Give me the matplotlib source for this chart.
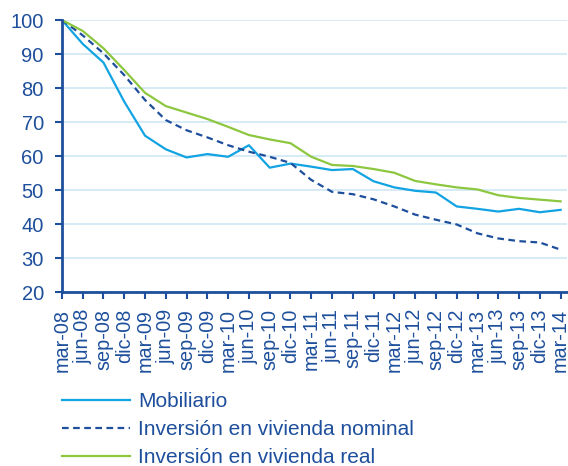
import numpy as np
import matplotlib
matplotlib.use('Agg')
import matplotlib.pyplot as plt

plt.rcParams['font.family'] = ['Liberation Sans', 'DejaVu Sans']

fechas = ['mar-08', 'jun-08', 'sep-08', 'dic-08',
          'mar-09', 'jun-09', 'sep-09', 'dic-09',
          'mar-10', 'jun-10', 'sep-10', 'dic-10',
          'mar-11', 'jun-11', 'sep-11', 'dic-11',
          'mar-12', 'jun-12', 'sep-12', 'dic-12',
          'mar-13', 'jun-13', 'sep-13', 'dic-13',
          'mar-14']

mobiliario = [100, 93.0, 87.5, 76.0, 66.0, 62.0, 59.6, 60.6, 59.8, 63.2, 56.6, 57.8,
              56.9, 55.9, 56.2, 52.6, 50.8, 49.8, 49.3, 45.2, 44.5, 43.7, 44.5, 43.5,
              44.2]
viv_nominal = [100, 95.5, 90.2, 83.8, 76.5, 70.6, 67.6, 65.5, 63.2, 61.3, 59.8, 58.0,
               53.0, 49.5, 48.8, 47.3, 45.2, 42.8, 41.3, 39.9, 37.3, 35.8, 35.0, 34.6,
               32.5]
viv_real = [100, 96.8, 91.7, 85.3, 78.6, 74.7, 72.8, 70.9, 68.6, 66.2, 64.9, 63.8,
            59.8, 57.4, 57.1, 56.2, 55.1, 52.7, 51.7, 50.8, 50.2, 48.5, 47.7, 47.2,
            46.7]

azul = '#1E4F9C'
cian = '#12A3E3'
verde = '#8DC63F'
rejilla = '#CFE8F6'

fig = plt.figure(figsize=(5.68, 4.66), dpi=100)
ax = fig.add_axes([0.109, 0.373, 0.889, 0.584])

x = np.arange(len(fechas))
ax.plot(x, mobiliario, color=cian, lw=1.6, label='Mobiliario')
ax.plot(x, viv_nominal, color=azul, lw=1.6, ls=(0, (3, 2)),
        label='Inversión en vivienda nominal')
ax.plot(x, viv_real, color=verde, lw=1.6, label='Inversión en vivienda real')

ax.set_xlim(0, len(fechas) - 1 + 0.3)
ax.set_ylim(20, 100)
ax.set_yticks(np.arange(20, 101, 10))
ax.set_xticks(x)
ax.set_xticklabels(fechas, rotation=90, fontsize=14.3, color=azul)
ax.tick_params(axis='y', labelsize=14.5, labelcolor=azul, pad=8)
ax.tick_params(axis='both', color=azul, width=1.5, length=5, direction='out')
ax.tick_params(axis='x', pad=7)

ax.yaxis.grid(True, color=rejilla, lw=1.2)
ax.set_axisbelow(True)
for s in ['top', 'right']:
    ax.spines[s].set_visible(False)
for s in ['left', 'bottom']:
    ax.spines[s].set_color(azul)
    ax.spines[s].set_linewidth(2)

leg = fig.legend(loc='upper left', bbox_to_anchor=(0.0945, 0.176), frameon=False,
                 fontsize=15, handlelength=3.27, handletextpad=0.38,
                 labelspacing=0.43, borderaxespad=0)
for t in leg.get_texts():
    t.set_color(azul)

fig.savefig('out.png', dpi=100)
